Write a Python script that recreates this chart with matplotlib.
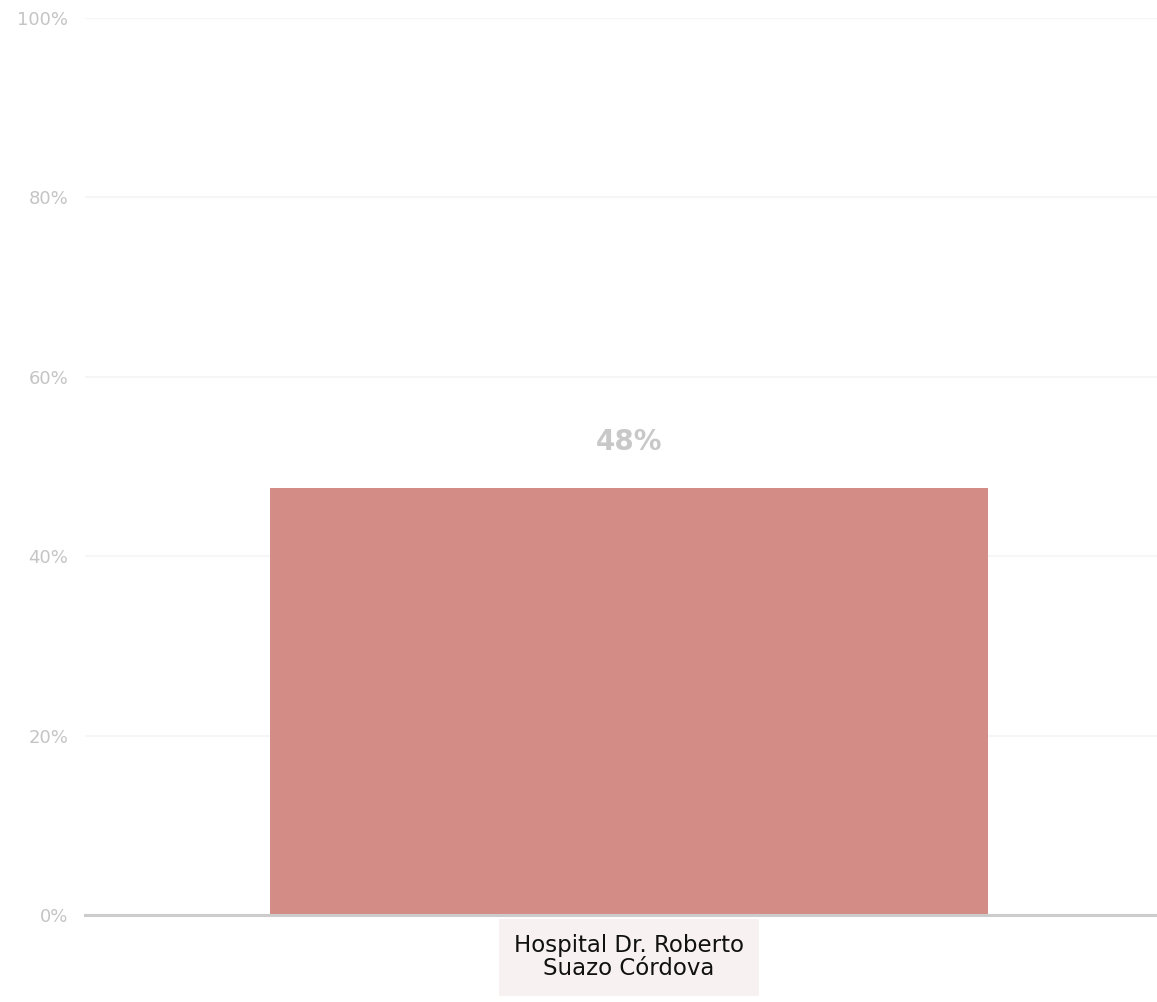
import matplotlib.pyplot as plt
import numpy as np

categories = ['Hospital Dr. Roberto\nSuazo Córdova']
values = [0.476]
value_labels = ['48%']
yticks = [0.0, 0.2, 0.4, 0.6, 0.8, 1.0]
ytick_labels = ['0%', '20%', '40%', '60%', '80%', '100%']

fig = plt.figure(figsize=(11.57, 10.02), dpi=100)
ax = fig.add_axes([0.0735, 0.0868, 0.9265, 0.8952])

x = np.arange(len(categories))
bars = ax.bar(x, values, width=0.67, color='#d48d86', zorder=3)

ax.set_xlim(-0.5075, 0.4925)
ax.set_ylim(0, 1)
ax.set_yticks(yticks)
ax.set_yticklabels(ytick_labels, color='#c4c4c4', fontsize=13)
ax.yaxis.grid(True, color='#f6f6f6', linewidth=1.5, zorder=0)
ax.tick_params(axis='y', length=0, pad=12)

for s in ['top', 'right', 'left']:
    ax.spines[s].set_visible(False)
ax.spines['bottom'].set_color('#cccccc')
ax.spines['bottom'].set_linewidth(2.2)
ax.spines['bottom'].set_zorder(4)

ax.set_xticks(x)
ax.set_xticklabels(categories, fontsize=16.5, color='#111111', linespacing=1.0)
ax.tick_params(axis='x', length=0, pad=14)
for lbl in ax.get_xticklabels():
    lbl.set_bbox(dict(facecolor='#f8f1f1', edgecolor='none', pad=11))

for b, v, t in zip(bars, values, value_labels):
    ax.text(b.get_x() + b.get_width() / 2, v + 0.036, t, ha='center', va='bottom',
            fontsize=20, fontweight='bold', color='#c8c8c8')

fig.savefig('out.png', dpi=100)
